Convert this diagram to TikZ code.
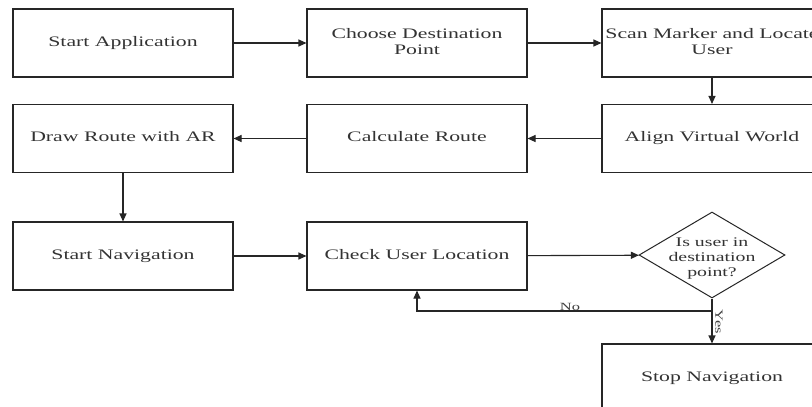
\documentclass[tikz,border=0pt]{standalone}
\usepackage{fontspec}
\usepackage{graphicx}
\setmainfont{Liberation Serif}
\usetikzlibrary{shapes.geometric,arrows.meta}
% wide text, set in a stretched serif
\newcommand{\wtext}[1]{\scalebox{1.5}[1]{\begin{tabular}{@{}c@{}}#1\end{tabular}}}
\begin{document}
\begin{tikzpicture}[x=1pt,y=-1pt,
  stepbox/.style={draw=black!85,line width=1.1pt,minimum width=220pt,minimum height=68pt,
    inner sep=0pt,text=black!80,font=\fontsize{14.5}{16}\selectfont},
  decision/.style={draw=black!85,line width=1pt,diamond,minimum width=146pt,minimum height=86pt,
    inner sep=0pt},
  decisiontext/.style={text=black!80,font=\fontsize{13.2}{15}\selectfont,inner sep=0pt},
  flow/.style={draw=black!85,line width=1.1pt,-{Triangle[length=8pt,width=7pt]}},
  lbl/.style={text=black!75,font=\fontsize{11}{12}\selectfont,inner sep=1pt}]
\useasboundingbox (0,0) rectangle (812,407);
\clip (0,0) rectangle (812,407);
\fill[white] (0,0) rectangle (812,407);

\node[stepbox] (start)  at (123,43)    {\wtext{Start Application}};
\node[stepbox] (choose) at (417,43)    {\wtext{Choose Destination\\Point}};
\node[stepbox] (scan)   at (712,43)    {\wtext{Scan Marker and Locate\\User}};
\node[stepbox] (align)  at (712,138.5) {\wtext{Align Virtual World}};
\node[stepbox] (calc)   at (417,138.5) {\wtext{Calculate Route}};
\node[stepbox] (draw)   at (123,138.5) {\wtext{Draw Route with AR}};
\node[stepbox] (nav)    at (123,256)   {\wtext{Start Navigation}};
\node[stepbox] (check)  at (417,256)   {\wtext{Check User Location}};
\node[decision] (isdest) at (712,255)  {};
\node[decisiontext] (isdesttxt) at (712,258) {\wtext{Is user in\\destination\\point?}};
\node[stepbox] (stop)   at (712,378)   {\wtext{Stop Navigation}};

\coordinate (split) at (712,311);

\draw[flow] (start) -- (choose);
\draw[flow] (choose) -- (scan);
\draw[flow] (scan) -- (align);
\draw[flow] (align) -- (calc);
\draw[flow] (calc) -- (draw);
\draw[flow] (draw) -- (nav);
\draw[flow] (nav) -- (check);
\draw[flow] (check) -- (isdest);
\draw[flow] (isdest.south) -- (stop.north);
\draw[flow] (split) -- (check.south |- split) -- (check.south);

\node[lbl,rotate=-90] (yes) at (719,322) {\scalebox{1.5}[1]{Yes}};
\node[lbl] (no) at (570,307) {\scalebox{1.5}[1]{No}};
\end{tikzpicture}
\end{document}
